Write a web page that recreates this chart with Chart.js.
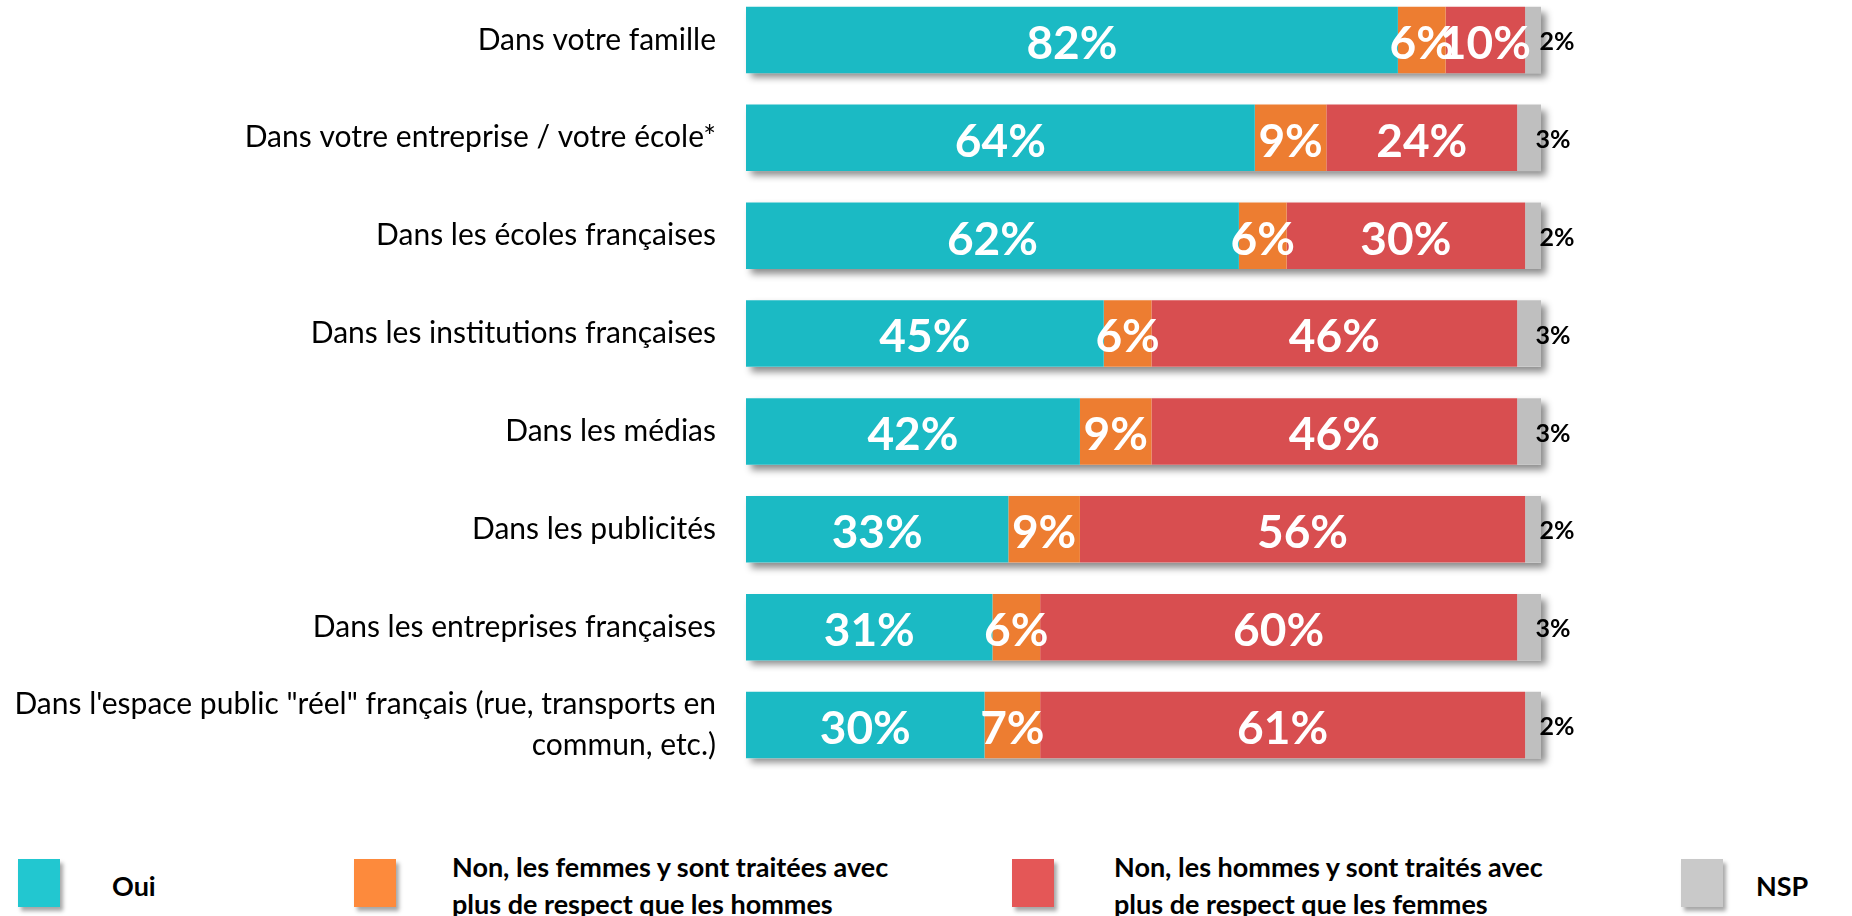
<!DOCTYPE html>
<html lang="fr">
<head>
<meta charset="utf-8">
<title>Respect hommes / femmes</title>
<script src="https://cdn.jsdelivr.net/npm/chart.js@4.4.1/dist/chart.umd.min.js"></script>
<style>
  html, body { margin: 0; padding: 0; width: 1852px; height: 916px; overflow: hidden; background: #fff; font-family: Lato, sans-serif; }
  #zone { position: absolute; left: 0; top: -9px; width: 1852px; height: 790px; }
  .case { position: absolute; top: 859px; width: 42px; height: 48px; box-shadow: 3px 4px 4px rgba(0,0,0,0.35); }
  .texte { position: absolute; top: 847px; height: 76px; display: flex; align-items: center; font-weight: bold; font-size: 27px; line-height: 37px; color: #000; white-space: nowrap; }
</style>
</head>
<body>
<div id="zone"><canvas id="graphique"></canvas></div>
<div id="legende"></div>
<script>
// Catégories (axe vertical)
const categories = [
  "Dans votre famille",
  "Dans votre entreprise / votre école*",
  "Dans les écoles françaises",
  "Dans les institutions françaises",
  "Dans les médias",
  "Dans les publicités",
  "Dans les entreprises françaises",
  ["Dans l'espace public \"réel\" français (rue, transports en", "commun, etc.)"],
];

// Séries (en %)
const oui = [82, 64, 62, 45, 42, 33, 31, 30];
const nonFemmes = [6, 9, 6, 6, 9, 9, 6, 7];
const nonHommes = [10, 24, 30, 46, 46, 56, 60, 61];
const nsp = [2, 3, 2, 3, 3, 2, 3, 2];

const nomsSeries = [
  "Oui",
  "Non, les femmes y sont traitées avec plus de respect que les hommes",
  "Non, les hommes y sont traités avec plus de respect que les femmes",
  "NSP",
];
const lignesLegende = [
  ["Oui"],
  ["Non, les femmes y sont traitées avec", "plus de respect que les hommes"],
  ["Non, les hommes y sont traités avec", "plus de respect que les femmes"],
  ["NSP"],
];

const coresBarres = ["#1bbac4", "#ed7d31", "#d84e50", "#bfbfbf"];
const coresLegende = ["#22c7d0", "#fd8a3c", "#e45757", "#c9c9c9"];
const series = [oui, nonFemmes, nonHommes, nsp];

// Ombre portée sous chaque barre empilée
const ombreBarres = {
  id: "ombreBarres",
  beforeDatasetsDraw(chart) {
    const ctx = chart.ctx;
    const x = chart.scales.x;
    const meta = chart.getDatasetMeta(0);
    ctx.save();
    ctx.shadowColor = "rgba(0,0,0,0.45)";
    ctx.shadowBlur = 7;
    ctx.shadowOffsetX = 5;
    ctx.shadowOffsetY = 5;
    ctx.fillStyle = "#fff";
    meta.data.forEach((barre, i) => {
      const total = series.reduce((s, d) => s + d[i], 0);
      const { y, height } = barre.getProps(["y", "height"], true);
      const x0 = x.getPixelForValue(0);
      const x1 = x.getPixelForValue(total);
      ctx.fillRect(x0, y - height / 2, x1 - x0, height);
    });
    ctx.restore();
  },
};

// Étiquettes des valeurs
const etiquettes = {
  id: "etiquettes",
  afterDatasetsDraw(chart) {
    const ctx = chart.ctx;
    ctx.save();
    ctx.textBaseline = "middle";
    chart.data.datasets.forEach((ds, d) => {
      const meta = chart.getDatasetMeta(d);
      meta.data.forEach((barre, i) => {
        const { x: xb, y, base } = barre.getProps(["x", "y", "base"], true);
        const texte = ds.data[i] + "%";
        ctx.textAlign = "center";
        if (d < 3) {
          ctx.fillStyle = "#fff";
          ctx.font = "bold 46px Lato";
          ctx.fillText(texte, (xb + base) / 2, y + 4);
        } else {
          // NSP : à droite de la barre, en noir
          ctx.fillStyle = "#000";
          ctx.font = "bold 25px Lato";
          ctx.fillText(texte, (xb + base) / 2 + 24, y + 2);
        }
      });
    });
    ctx.restore();
  },
};

const config = {
  type: "bar",
  data: {
    labels: categories,
    datasets: series.map((valeurs, k) => ({
      label: nomsSeries[k],
      data: valeurs,
      backgroundColor: coresBarres[k],
      borderWidth: 0,
      barPercentage: 1,
      categoryPercentage: 0.68,
    })),
  },
  options: {
    indexAxis: "y",
    responsive: true,
    maintainAspectRatio: false,
    animation: false,
    layout: { padding: { left: 0, right: 311, top: 0, bottom: 7 } },
    plugins: {
      legend: { display: false },
      tooltip: { enabled: false },
    },
    scales: {
      x: { stacked: true, min: 0, max: 100, display: false },
      y: {
        stacked: true,
        grid: { display: false },
        border: { display: false },
        ticks: {
          color: "#000",
          padding: 22,
          font: { family: "Lato", size: 30, lineHeight: 1.37 },
        },
        afterFit: (scale) => {
          scale.width = 746;
          scale.paddingTop = 0;
          scale.paddingBottom = 0;
        },
      },
    },
  },
  plugins: [ombreBarres, etiquettes],
};

new Chart(document.getElementById("graphique"), config);

// Légende en bas
const posLegende = [
  { caseX: 18, texteX: 112 },
  { caseX: 354, texteX: 452 },
  { caseX: 1012, texteX: 1114 },
  { caseX: 1681, texteX: 1756 },
];
const legende = document.getElementById("legende");
lignesLegende.forEach((lignes, k) => {
  const c = document.createElement("div");
  c.className = "case";
  c.style.left = posLegende[k].caseX + "px";
  c.style.background = coresLegende[k];
  legende.appendChild(c);
  const t = document.createElement("div");
  t.className = "texte";
  t.style.left = posLegende[k].texteX + "px";
  t.innerHTML = lignes.join("<br>");
  legende.appendChild(t);
});
</script>
</body>
</html>
